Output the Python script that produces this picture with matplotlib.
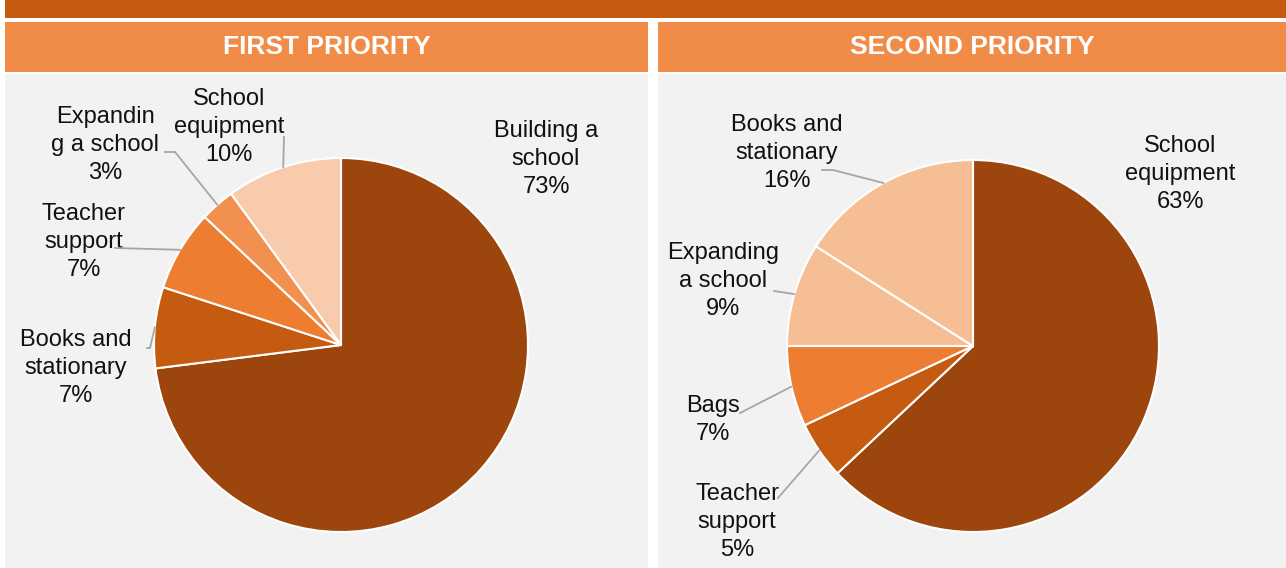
import numpy as np
import matplotlib
matplotlib.use("Agg")
import matplotlib.pyplot as plt
from matplotlib.patches import Rectangle

plt.rcParams['font.family'] = ['Liberation Sans', 'DejaVu Sans']

# data
first_labels = ["Building a\nschool", "Books and\nstationary", "Teacher\nsupport",
                "Expandin\ng a school", "School\nequipment"]
first_values = [73, 7, 7, 3, 10]
first_colors = ["#9C460D", "#C55A11", "#ED7D31", "#F1904F", "#F8CBAD"]

second_labels = ["School\nequipment", "Teacher\nsupport", "Bags",
                 "Expanding\na school", "Books and\nstationary"]
second_values = [63, 5, 7, 9, 16]
second_colors = ["#9C460D", "#C55A11", "#ED7D31", "#F6BE94", "#F6BE94"]

W, H = 1286, 568
fig = plt.figure(figsize=(W / 100, H / 100), dpi=100)
ax = fig.add_axes([0, 0, 1, 1])
ax.set_xlim(0, W)
ax.set_ylim(0, H)
ax.set_aspect("equal")
ax.axis("off")

def Y(y):
    # image pixel row -> axes y
    return H - y

# top band, headers, panel backgrounds
ax.add_patch(Rectangle((5, Y(18)), W - 5, 18, color="#C55A11", lw=0))
for x0, x1, title in [(5, 648, "FIRST PRIORITY"), (658, W, "SECOND PRIORITY")]:
    ax.add_patch(Rectangle((x0, Y(72)), x1 - x0, 50, color="#F08C48", lw=0))
    ax.add_patch(Rectangle((x0, 0), x1 - x0, Y(74), color="#F2F2F2", lw=0))
    ax.text((x0 + x1) / 2, Y(47), title, color="white", fontsize=19,
            fontweight="bold", ha="center", va="center")

def draw_pie(values, labels, colors, cx, cy, r, label_pos, leaders):
    ax.pie(values, colors=colors, startangle=90, counterclock=False,
           center=(cx, Y(cy)), radius=r,
           wedgeprops=dict(edgecolor="white", linewidth=1.5))
    total = float(sum(values))
    cum = 0.0
    for v, lab, (tx, ty), pts in zip(values, labels, label_pos, leaders):
        mid = (cum + v / 2) / total * 360.0
        cum += v
        ax.text(tx, Y(ty + 2), f"{lab}\n{v}%", fontsize=17, ha="center",
                va="center", color="#111111", linespacing=1.34)
        if pts:
            ex = cx + r * np.sin(np.radians(mid))
            ey = cy - r * np.cos(np.radians(mid))
            xs = [p[0] for p in pts] + [ex]
            ys = [Y(p[1]) for p in pts] + [Y(ey)]
            ax.plot(xs, ys, color="#A6A6A6", lw=1.3, zorder=3)

draw_pie(first_values, first_labels, first_colors, 341, 345, 187,
         [(546, 157), (76, 366), (84, 240), (105, 143), (229, 125)],
         [None, [(147, 348), (150, 348)], [(115, 248)],
          [(165, 152), (175, 152)], [(284, 137)]])

draw_pie(second_values, second_labels, second_colors, 973, 346, 186,
         [(1180, 172), (737, 520), (713, 418), (723, 279), (787, 151)],
         [None, [(778, 498)], [(740, 413)], [(774, 291)],
          [(822, 170), (833, 170)]])

ax.set_xlim(0, W)
ax.set_ylim(0, H)
fig.savefig("out.png", dpi=100)
